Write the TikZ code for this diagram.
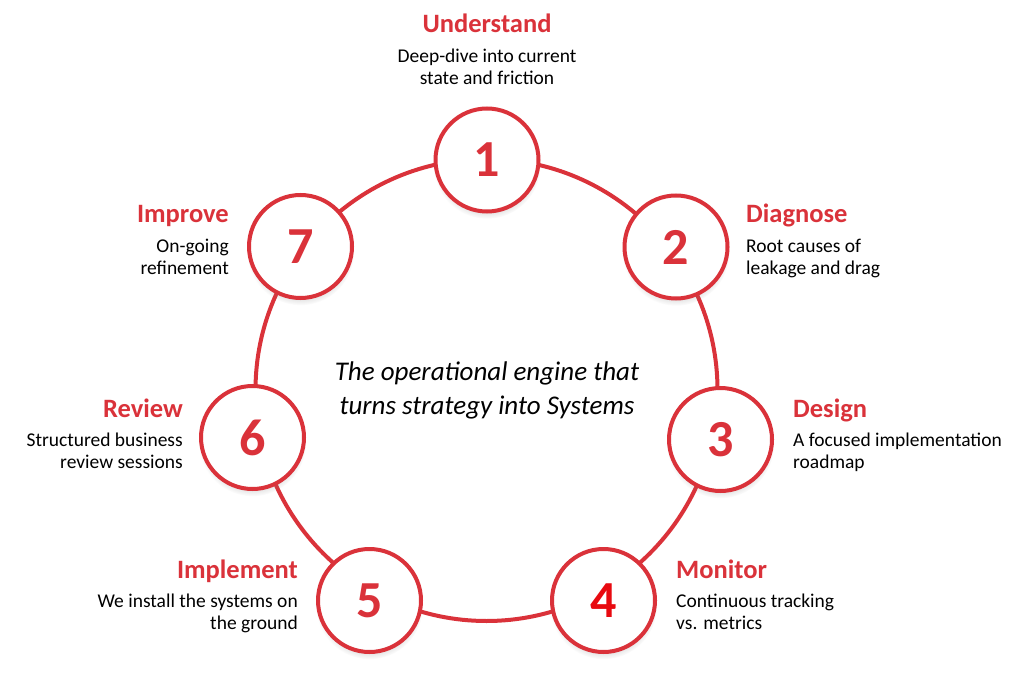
\documentclass[tikz,border=0pt]{standalone}
\usepackage{fontspec}
\setmainfont{Carlito}
\usetikzlibrary{positioning,shadows}
\definecolor{stepred}{RGB}{218,50,58}
\definecolor{hotred}{RGB}{232,10,16}

\begin{document}
\begin{tikzpicture}[x=1pt,y=-1pt,node distance=16pt,
  ring/.style={draw=stepred,line width=4pt},
  stepnode/.style={circle,ring,fill=white,minimum size=103pt,inner sep=0pt,
    font=\fontsize{52}{52}\selectfont\bfseries,text=stepred,
    circular drop shadow={shadow xshift=0pt,shadow yshift=-5pt,shadow scale=1.04,opacity=0.25}},
  head/.style={font=\fontsize{26.5}{30}\selectfont\bfseries,text=stepred,inner sep=0pt},
  desc/.style={font=\fontsize{19.5}{21.5}\selectfont,inner sep=0pt}]
  \useasboundingbox[fill=white] (0,0) rectangle (1024,684);

  % the ring the steps sit on
  \coordinate (hub) at (486.5,390);
  \draw[ring] (hub) circle (231pt);

  % the seven steps
  \node[stepnode] (s1) at (487,160) {1};
  \node[stepnode] (s2) at (676,247) {2};
  \node[stepnode] (s3) at (720.5,439.5) {3};
  \node[stepnode,text=hotred] (s4) at (603.5,600.5) {4};
  \node[stepnode] (s5) at (369.5,600.5) {5};
  \node[stepnode] (s6) at (252.5,437.5) {6};
  \node[stepnode] (s7) at (300.5,246.5) {7};

  % titles and notes
  \node[head,anchor=base] (h1) at (487,33) {Understand};
  \node[desc,align=center,below=of h1.base,anchor=north] (d1) {Deep-dive into current\\state and friction};

  \node[head,anchor=base west] (h2) at (746,223) {Diagnose};
  \node[desc,align=left,below=of h2.base west,anchor=north west] (d2) {Root causes of\\leakage and drag};

  \node[head,anchor=base west] (h3) at (793,417) {Design};
  \node[desc,align=left,below=of h3.base west,anchor=north west] (d3) {A focused implementation\\roadmap};

  \node[head,anchor=base west] (h4) at (676,578) {Monitor};
  \node[desc,align=left,below=of h4.base west,anchor=north west] (d4) {Continuous tracking\\vs. metrics};

  \node[head,anchor=base east] (h5) at (298,578) {Implement};
  \node[desc,align=right,below=of h5.base east,anchor=north east] (d5) {We install the systems on\\the ground};

  \node[head,anchor=base east] (h6) at (183,417) {Review};
  \node[desc,align=right,below=of h6.base east,anchor=north east] (d6) {Structured business\\review sessions};

  \node[head,anchor=base east] (h7) at (229,223) {Improve};
  \node[desc,align=right,below=of h7.base east,anchor=north east] (d7) {On-going\\refinement};

  \node[font=\fontsize{27}{34}\selectfont\itshape,align=center] (core) at (487,390)
     {The operational engine that\\turns strategy into Systems};
\end{tikzpicture}
\end{document}
